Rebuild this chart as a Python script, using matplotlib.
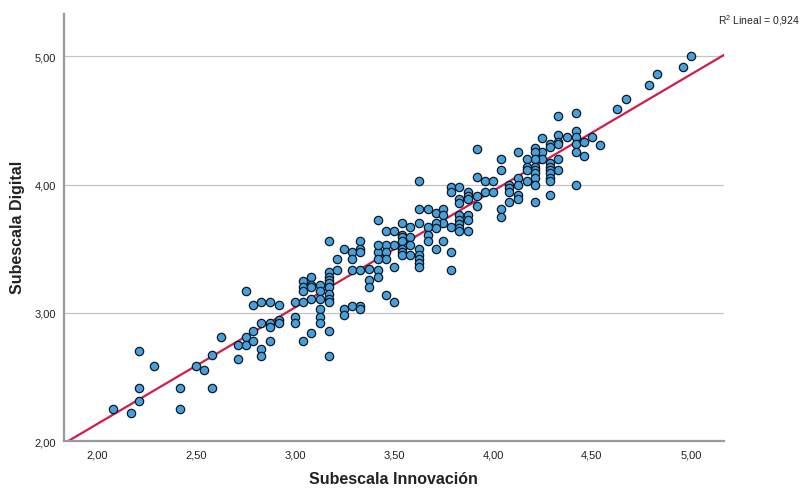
import numpy as np
import matplotlib
matplotlib.use("Agg")
import matplotlib.pyplot as plt

# Subescala Innovación (x) frente a Subescala Digital (y)
innovacion = [
    2.08, 2.17, 2.21, 2.21, 2.21, 2.29, 2.42, 2.42, 2.50, 2.54, 2.58, 2.58, 2.625, 2.71, 2.71, 2.75, 2.75,
    2.75, 2.79, 2.83, 2.875, 2.92, 3.00, 3.04, 3.04, 3.04, 3.04, 3.08, 3.08, 3.08, 3.08, 3.125, 2.83,
    2.875, 2.875, 2.92, 2.92, 3.00, 3.00, 2.79, 2.79, 2.875, 2.83, 2.83, 3.04, 3.08, 3.125, 3.125, 3.125,
    3.125, 3.125, 3.17, 3.25, 3.29, 3.33, 3.33, 3.33, 3.42, 3.42, 3.21, 3.17, 3.17, 3.17, 3.17, 3.21,
    3.29, 3.29, 3.33, 3.375, 3.375, 3.42, 3.42, 3.17, 3.17, 3.17, 3.17, 3.25, 3.25, 3.29, 3.33, 3.33,
    3.17, 3.17,
    3.625, 3.46, 3.50, 3.54, 3.58, 3.625, 3.67, 3.71, 3.75, 3.75, 3.75, 3.71, 3.625, 3.67, 3.67, 3.67,
    3.71, 3.54, 3.54, 3.54, 3.54, 3.54, 3.54, 3.58, 3.58, 3.58, 3.625, 3.625, 3.625, 3.625, 3.625, 3.50,
    3.46, 3.46, 3.46, 3.42, 3.42, 3.50, 3.375, 3.46, 3.50,
    3.92, 4.04, 4.04, 3.92, 3.96, 4.00, 3.96, 4.00, 3.79, 3.79, 3.83, 3.83, 3.83, 3.875, 3.875, 3.875,
    3.92, 3.92, 4.04, 4.04, 3.71, 3.79, 3.83, 3.83, 3.83, 3.83, 3.83, 3.875, 3.875, 3.875, 3.75, 3.79,
    3.79,
    4.33, 4.33, 4.33, 4.33, 4.33, 4.33, 4.25, 4.25, 4.25,
    4.29, 4.29, 4.29, 4.29, 4.29, 4.29, 4.29, 4.29, 4.29,
    4.21, 4.21, 4.21, 4.21, 4.21, 4.21, 4.21, 4.21, 4.21,
    4.125, 4.125, 4.125, 4.125, 4.125, 4.17, 4.17, 4.17, 4.17, 4.08, 4.08, 4.08, 4.08,
    4.42, 4.42, 4.42, 4.42, 4.42, 4.42, 4.625, 4.375, 4.46, 4.46, 4.50, 4.54,
    4.67, 4.79, 4.83, 4.96, 5.00,
]
digital = [
    2.25, 2.22, 2.70, 2.415, 2.31, 2.585, 2.415, 2.25, 2.585, 2.555, 2.67, 2.415, 2.81, 2.75, 2.64, 2.81, 2.75,
    3.17, 3.06, 3.085, 3.085, 3.06, 3.085, 3.25, 3.20, 3.17, 3.085, 3.28, 3.22, 3.20, 3.11, 3.22, 2.92,
    2.92, 2.89, 2.94, 2.92, 2.97, 2.92, 2.86, 2.78, 2.78, 2.72, 2.665, 2.78, 2.84, 3.03, 2.97, 2.92,
    3.17, 3.11, 3.556, 3.50, 3.475, 3.556, 3.50, 3.475, 3.475, 3.72, 3.42, 3.315, 3.28, 3.255, 3.23, 3.335,
    3.42, 3.335, 3.335, 3.255, 3.20, 3.335, 3.28, 3.20, 3.145, 3.11, 3.085, 3.03, 2.98, 3.055, 3.055, 3.03,
    2.86, 2.665,
    4.03, 3.64, 3.64, 3.70, 3.67, 3.81, 3.81, 3.78, 3.81, 3.76, 3.70, 3.70, 3.70, 3.67, 3.61, 3.56,
    3.50, 3.61, 3.59, 3.56, 3.50, 3.475, 3.45, 3.59, 3.53, 3.45, 3.50, 3.45, 3.42, 3.39, 3.36, 3.53,
    3.53, 3.475, 3.42, 3.53, 3.42, 3.36, 3.34, 3.14, 3.085,
    4.275, 4.20, 4.115, 4.06, 4.03, 4.03, 3.945, 3.945, 3.98, 3.945, 3.98, 3.89, 3.86, 3.945, 3.91, 3.89,
    3.91, 3.83, 3.81, 3.75, 3.66, 3.67, 3.76, 3.72, 3.69, 3.66, 3.64, 3.76, 3.725, 3.64, 3.56, 3.475,
    3.335,
    4.535, 4.39, 4.335, 4.315, 4.20, 4.11, 4.36, 4.255, 4.20,
    4.315, 4.29, 4.17, 4.14, 4.11, 4.09, 4.055, 4.03, 3.92,
    4.285, 4.255, 4.20, 4.14, 4.11, 4.09, 4.055, 4.00, 3.865,
    4.255, 4.055, 4.00, 3.92, 3.89, 4.20, 4.14, 4.11, 4.03, 4.00, 3.97, 3.945, 3.865,
    4.56, 4.42, 4.37, 4.315, 4.255, 4.00, 4.59, 4.37, 4.335, 4.22, 4.37, 4.31,
    4.67, 4.78, 4.865, 4.92, 5.00,
]

# recta de ajuste lineal y R2 que muestra SPSS
pendiente = 0.909
intercepto = 0.314
r2_texto = "R$^2$ Lineal = 0,924"

x_ticks = [2.0, 2.5, 3.0, 3.5, 4.0, 4.5, 5.0]
y_ticks = [2.0, 3.0, 4.0, 5.0]

arial = ["Liberation Sans", "DejaVu Sans"]
plt.rcParams["font.family"] = arial
plt.rcParams["mathtext.fontset"] = "custom"
plt.rcParams["mathtext.rm"] = "Liberation Sans"

fig = plt.figure(figsize=(8.02, 4.89), dpi=100)
ax = fig.add_axes([0.0798, 0.0961, 0.8229, 0.8732])

xmin, xmax = 1.833, 5.167
ax.set_xlim(xmin, xmax)
ax.set_ylim(2.0, 5.33)

# cuadrícula horizontal
for yv in y_ticks[1:]:
    ax.axhline(yv, color="#c4c4c4", lw=0.9, zorder=0)

xs = np.array([xmin, xmax])
ax.plot(xs, intercepto + pendiente * xs, color="#d11d4b", lw=1.6, zorder=2)

ax.scatter(innovacion, digital, s=36, facecolor="#45a0dc", edgecolor="#101820",
           linewidth=0.9, zorder=3, clip_on=False)

ax.set_xticks(x_ticks)
ax.set_xticklabels([f"{v:.2f}".replace(".", ",") for v in x_ticks])
ax.set_yticks(y_ticks)
ax.set_yticklabels([f"{v:.2f}".replace(".", ",") for v in y_ticks])
ax.tick_params(length=0, labelsize=8, colors="#222222", pad=6)

for s in ["top", "right"]:
    ax.spines[s].set_visible(False)
for s in ["left", "bottom"]:
    ax.spines[s].set_color("#9a9a9a")
    ax.spines[s].set_linewidth(1.6)

fig.text(0.49, 0.004, "Subescala Innovación", ha="center", va="bottom",
         fontsize=11.5, fontweight="bold", color="#222222")
fig.text(0.022, 0.535, "Subescala Digital", ha="center", va="center", rotation=90,
         fontsize=11.5, fontweight="bold", color="#222222")
fig.text(0.997, 0.957, r2_texto, ha="right", va="center", fontsize=7.5,
         color="#222222")

fig.savefig("out.png", dpi=100)
